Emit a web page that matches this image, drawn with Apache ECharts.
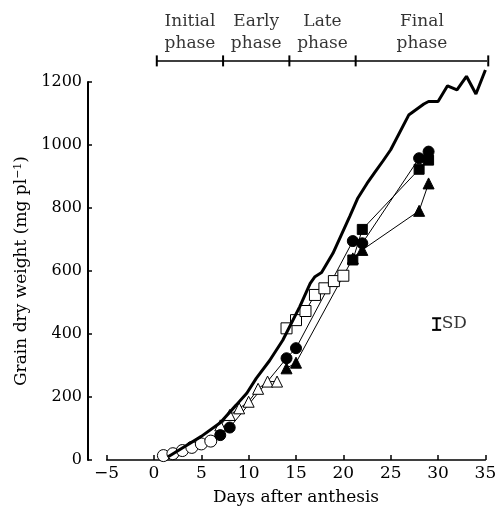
<!DOCTYPE html>
<html>
<head>
<meta charset="utf-8">
<script src="https://cdn.jsdelivr.net/npm/echarts@6/dist/echarts.min.js"></script>
<style>
  html, body { margin: 0; padding: 0; background: #fff; }
  #main { width: 500px; height: 510px; }
</style>
</head>
<body>
<div id="main"></div>
<script>
// thick curve (no markers)
var curveDays = [1.5, 3, 5, 7, 8.7, 9.8, 10.8, 12.2, 13.6, 15.4, 16.5, 17, 17.7, 18.9, 20.7, 21.5, 22.5, 23.3, 24.2, 25, 26.9, 28.5, 29, 30, 31, 32, 33, 34, 35];
var curveWeight = [10, 38, 75, 118, 175, 212, 259, 315, 380, 487, 561, 582, 595, 656, 775, 830, 878, 912, 950, 985, 1095, 1130, 1138, 1138, 1188, 1175, 1218, 1162, 1238];

// open circles
var ocDays = [1, 2, 3, 4, 5, 6];
var ocWeight = [14, 20, 30, 40, 51, 60];
// open triangles
var otDays = [7, 8, 9, 10, 11, 12, 13];
var otWeight = [110, 143, 164, 185, 226, 249, 249];
// filled circles
var fcDays = [7, 8, 14, 15, 21, 22, 28, 29];
var fcWeight = [79, 103, 323, 355, 695, 688, 958, 979];
// filled triangles
var ftDays = [14, 15, 21, 22, 28, 29];
var ftWeight = [291, 309, 640, 667, 791, 878];
// open squares
var osDays = [14, 15, 16, 17, 18, 19, 20];
var osWeight = [418, 444, 473, 524, 545, 568, 585];
// filled squares
var fsDays = [21, 22, 28, 29];
var fsWeight = [635, 732, 923, 952];

// phase bar on top
var phaseDays = [0.3, 7.3, 14.3, 21.3, 35.3];
var phaseNames = ['Initial\nphase', 'Early\nphase', 'Late\nphase', 'Final\nphase'];
var phaseLevel = 1267;

// SD bar
var sdDay = 29.85;
var sdRange = [413, 450];

var xTicks = [-5, 0, 5, 10, 15, 20, 25, 30, 35];
var yTicks = [0, 200, 400, 600, 800, 1000, 1200];

var FONT = '"DejaVu Serif", "Liberation Serif", serif';

function pairs(xs, ys) {
  return xs.map(function (x, i) { return [x, ys[i]]; });
}

function markerSeries(xs, ys, symbol, size, filled) {
  return {
    type: 'line',
    data: pairs(xs, ys),
    symbol: symbol,
    symbolSize: size,
    showAllSymbol: true,
    clip: false,
    z: 3,
    lineStyle: { color: '#000', width: 1 },
    itemStyle: {
      color: filled ? '#000' : '#fff',
      borderColor: '#000',
      borderWidth: 1
    },
    emphasis: { disabled: true }
  };
}

var phaseMid = [];
for (var i = 0; i < phaseNames.length; i++) {
  phaseMid.push([(phaseDays[i] + phaseDays[i + 1]) / 2, phaseLevel]);
}

var chart = echarts.init(document.getElementById('main'), null, { renderer: 'canvas' });

var option = {
  backgroundColor: '#fff',
  animation: false,
  grid: {
    left: 106.6,
    right: 14.6,
    top: 82,
    bottom: 50,
    outerBoundsMode: 'none'
  },
  xAxis: {
    type: 'value',
    min: xTicks[0],
    max: xTicks[xTicks.length - 1],
    interval: 5,
    name: 'Days after anthesis',
    nameLocation: 'middle',
    nameGap: 29,
    nameTextStyle: { color: '#000', fontFamily: FONT, fontSize: 17 },
    axisLine: { onZero: false, lineStyle: { color: '#000', width: 1.5 } },
    axisTick: { inside: true, length: 5, lineStyle: { color: '#000', width: 1.5 } },
    axisLabel: {
      color: '#000',
      fontFamily: FONT,
      fontSize: 17,
      margin: 5,
      formatter: function (v) { return v < 0 ? '\u2212' + Math.abs(v) : String(v); }
    },
    splitLine: { show: false }
  },
  yAxis: {
    type: 'value',
    min: yTicks[0],
    max: yTicks[yTicks.length - 1],
    interval: 200,
    offset: 18.6,
    name: 'Grain dry weight (mg pl{sup|\u22121})',
    nameLocation: 'middle',
    nameGap: 55,
    nameRotate: 90,
    nameTextStyle: {
      color: '#000',
      fontFamily: FONT,
      fontSize: 17,
      rich: {
        sup: { fontFamily: FONT, fontSize: 11, verticalAlign: 'top', padding: [0, 0, 8, 0], color: '#000' }
      }
    },
    axisLine: { show: true, onZero: false, lineStyle: { color: '#000', width: 2 } },
    axisTick: { inside: true, length: 4, lineStyle: { color: '#000', width: 1.5 } },
    axisLabel: {
      color: '#000',
      fontFamily: FONT,
      fontSize: 16,
      margin: 6,
      formatter: function (v) { return String(v); }
    },
    splitLine: { show: false }
  },
  series: [
    {
      type: 'line',
      data: pairs(curveDays, curveWeight),
      symbol: 'none',
      clip: false,
      z: 4,
      lineStyle: { color: '#000', width: 3 }
    },
    markerSeries(ocDays, ocWeight, 'circle', 12, false),
    markerSeries(otDays, otWeight, 'triangle', 11, false),
    markerSeries(fcDays, fcWeight, 'circle', 11, true),
    markerSeries(ftDays, ftWeight, 'triangle', 11, true),
    markerSeries(osDays, osWeight, 'rect', 11, false),
    markerSeries(fsDays, fsWeight, 'rect', 10, true),
    // phase bar
    {
      type: 'line',
      data: phaseDays.map(function (d) { return [d, phaseLevel]; }),
      symbol: 'rect',
      symbolSize: [2, 11],
      clip: false,
      lineStyle: { color: '#000', width: 1.5 },
      itemStyle: { color: '#000' }
    },
    {
      type: 'scatter',
      data: phaseMid,
      symbolSize: 0,
      clip: false,
      label: {
        show: true,
        position: 'top',
        distance: 6,
        color: '#000',
        fontFamily: FONT,
        fontSize: 17,
        lineHeight: 22,
        align: 'center',
        formatter: function (p) { return phaseNames[p.dataIndex]; }
      }
    },
    // SD bar
    {
      type: 'line',
      data: sdRange.map(function (v) { return [sdDay, v]; }),
      symbol: 'rect',
      symbolSize: [9, 2],
      lineStyle: { color: '#000', width: 2 },
      itemStyle: { color: '#000' }
    },
    {
      type: 'scatter',
      data: [[sdDay, (sdRange[0] + sdRange[1]) / 2]],
      symbolSize: 0,
      label: {
        show: true,
        position: 'right',
        distance: 5,
        color: '#000',
        fontFamily: FONT,
        fontSize: 17,
        formatter: 'SD'
      }
    }
  ]
};

chart.setOption(option);
</script>
</body>
</html>
